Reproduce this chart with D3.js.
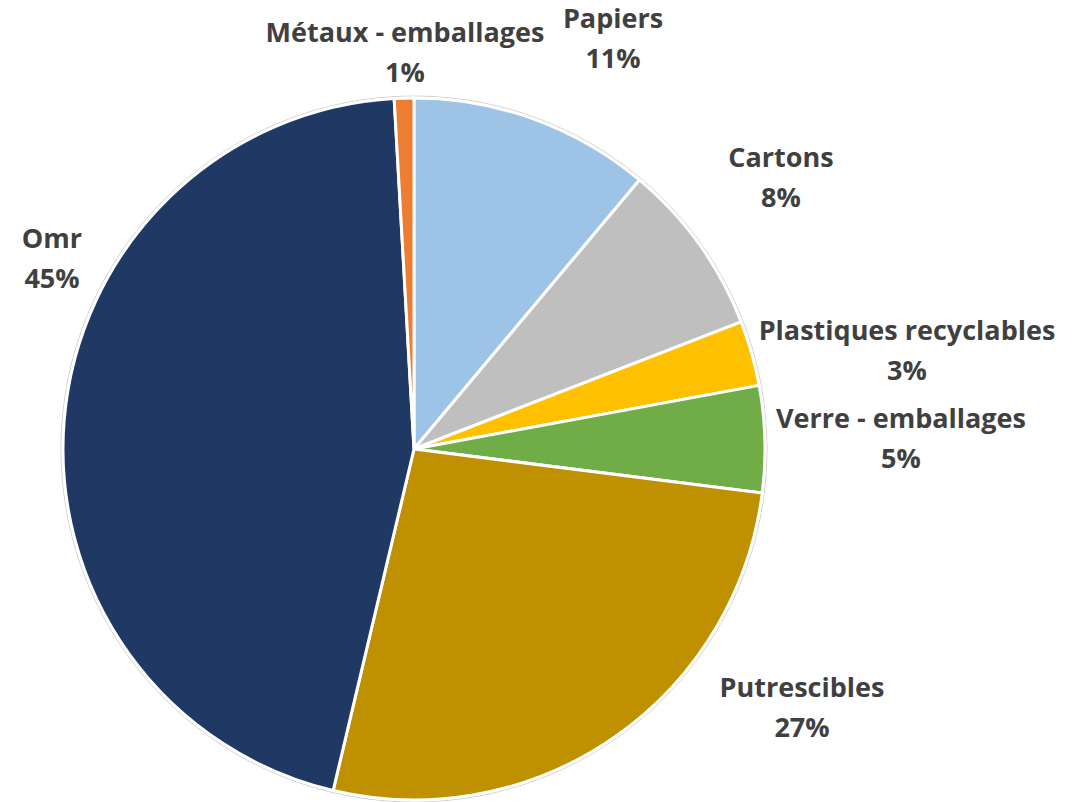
<!DOCTYPE html>
<html>
<head>
<meta charset="utf-8">
<script src="https://cdn.jsdelivr.net/npm/d3@7/dist/d3.min.js"></script>
<style>
  html, body { margin: 0; padding: 0; background: #fff; }
  svg { display: block; }
</style>
</head>
<body>
<svg id="chart" width="1078" height="802"></svg>
<script>
const categories = ["Papiers", "Cartons", "Plastiques recyclables", "Verre - emballages", "Putrescibles", "Omr", "Métaux - emballages"];
const values = [11.1, 8.0, 3.0, 4.9, 26.7, 45.4, 0.9];
const colors = ["#9DC3E6", "#BFBFBF", "#FFC000", "#70AD47", "#BF9000", "#203864", "#ED7D31"];
// label anchor positions (center x, baseline of first line)
const labelPos = [[613, 28], [781, 167], [907, 340], [901, 428], [802, 697], [52, 248], [405, 42]];

const svg = d3.select("#chart");
const cx = 414, cy = 449, r = 351;

const pie = d3.pie().sort(null).value(d => d.v).startAngle(0).endAngle(2 * Math.PI);
const data = categories.map((c, i) => ({ c, v: values[i], col: colors[i], lp: labelPos[i] }));
const arcs = pie(data);
const arc = d3.arc().innerRadius(0).outerRadius(r);

const g = svg.append("g").attr("transform", `translate(${cx},${cy})`);

g.append("circle").attr("r", r + 2).attr("fill", "none")
  .attr("stroke", "#d0d0d0").attr("stroke-width", 1);

g.selectAll("path").data(arcs).enter().append("path")
  .attr("d", arc)
  .attr("fill", d => d.data.col)
  .attr("stroke", "#fff")
  .attr("stroke-width", 3)
  .attr("stroke-linejoin", "round");

const fmt = v => Math.round(v) + "%";
const lab = svg.append("g")
  .attr("font-family", "'Open Sans', sans-serif")
  .attr("font-weight", "bold")
  .attr("font-size", 27)
  .attr("fill", "#404040")
  .attr("text-anchor", "middle");

arcs.forEach(d => {
  const t = lab.append("text").attr("x", d.data.lp[0]).attr("y", d.data.lp[1]);
  t.append("tspan").attr("x", d.data.lp[0]).text(d.data.c);
  t.append("tspan").attr("x", d.data.lp[0]).attr("dy", 40).text(fmt(d.data.v));
});
</script>
</body>
</html>
